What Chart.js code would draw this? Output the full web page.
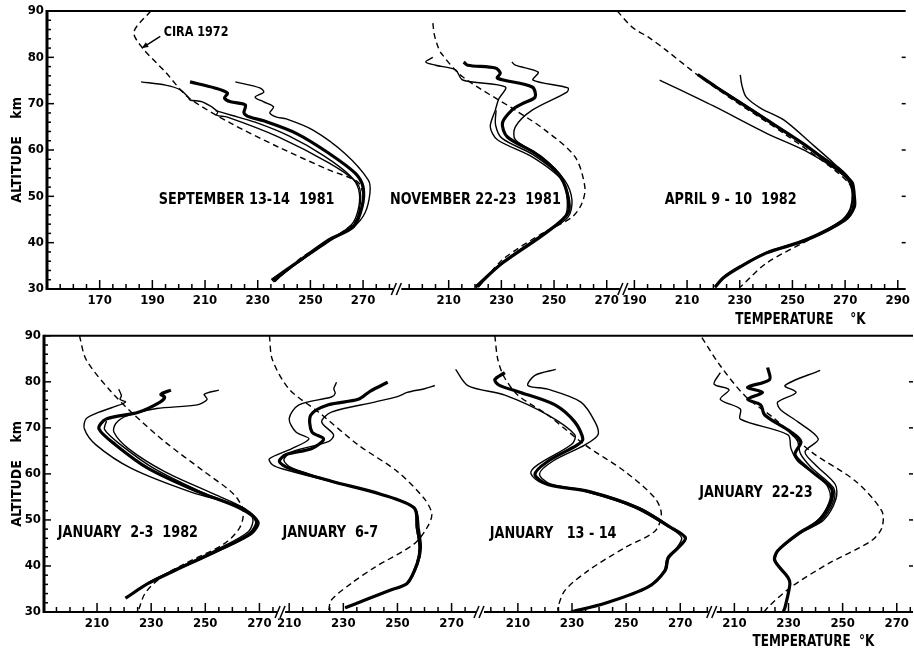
<!DOCTYPE html>
<html>
<head>
<meta charset="utf-8">
<script src="https://cdn.jsdelivr.net/npm/chart.js@4.4.0/dist/chart.umd.min.js"></script>
<style>
  body { margin: 0; background: #fff; }
  #wrap { position: relative; width: 914px; height: 650px; }
  .row { position: absolute; left: 0; width: 914px; height: 325px; }
</style>
</head>
<body>
<div id="wrap">
  <div class="row" style="top:0"><canvas id="topChart"></canvas></div>
  <div class="row" style="top:325px"><canvas id="bottomChart"></canvas></div>
</div>
<script>
// profiles are [temperature K, altitude km]
// --- September 13-14 1981
var sepCira  = [[189.4,90],[183,85.5],[186,82.2],[195,76.8],[203.6,71.4],[219.7,65.8],[238,60.6],[257,55.7],[268,53.1],[270,50],[268.5,46],[266,44],[258,40.8],[246,36.5],[236,31.3]];
var sepThick = [[204.3,74.7],[213.7,73.4],[218.5,72.3],[217.4,71.2],[219.7,70.4],[225.3,69.7],[224.8,68],[227,67.1],[232.3,66.3],[244.6,63.6],[257,59.3],[267,55],[270,52],[269.6,47.7],[266.3,43.4],[257,40.6],[244.6,35.6],[235.3,31.9]];
var sepThinA = [[185.7,74.7],[195,74],[200.6,73],[203.6,71.4],[204.3,70.8],[209,70.4],[214.8,68.3],[214.4,67.5],[218.5,67.1],[238,62.8],[257,57.2],[267.8,52.8],[269,48.8],[266.5,44],[257,40.2],[244.6,35.4],[236,31.5]];
var sepThinB = [[214,68.5],[220,67.5],[229,66],[242,63],[255,58.8],[265,54.5],[268.3,51.5],[268.3,47.5],[265.5,43.8],[257,40.4],[245,35.6],[236,31.6]];
var sepThinC = [[221.5,74.7],[230.8,73.4],[232.3,72.5],[229,71.4],[232.3,70.4],[236,69.3],[234.6,68],[237.2,67.1],[240.9,66.7],[251,64.3],[263,59.3],[272,53.5],[272.6,50.7],[270.7,46.4],[266.5,43.5],[257,40.6],[244.6,35.6],[236,31.6]];
// --- November 22-23 1981
var novCira  = [[204,87.4],[204.5,85],[205.5,83],[207,81],[215.3,75.8],[235.3,68.6],[246.6,64.3],[258,58.5],[261.7,52],[260.6,48.5],[256.8,45.5],[245.5,42],[230.4,36.3],[221.3,30.4]];
var novThick = [[215.7,79],[217.2,78.3],[227.7,77.7],[229.6,76.6],[228.5,75.5],[241.7,73.6],[242.8,71.4],[238,70],[234,68.6],[230.4,65.8],[232.3,62.8],[242.8,59.3],[251.5,55],[255,50.7],[255.3,46.4],[246.6,42],[230.4,35.6],[220.2,30.4]];
var novThinL = [[204,80],[201.3,79],[205,78.3],[212.6,77.3],[215.3,75.1],[231.5,73.6],[229,71],[227.7,68.6],[225.8,65],[228.5,62.2],[241.7,58.5],[253,53.5],[255,49.2],[254,45.5],[246,42],[230,35.6],[220.5,30.5]];
var novThinM = [[228,68.6],[227.8,65.4],[230.3,62.5],[242,59],[252,54.4],[255.5,50],[255,46],[246.3,42],[230.2,35.6],[220.3,30.4]];
var novThinR = [[234,79],[235.3,78.3],[244,76.8],[242,75.1],[255.3,73.4],[254.9,72.5],[241.7,68.6],[235.3,65],[235.3,62.2],[245.5,58.5],[254,53.5],[256.8,49.2],[255.3,45.5],[246.6,42],[230.4,35.6],[221,30.4]];
// --- April 9-10 1982
var aprCira  = [[183.5,90],[189.2,86.5],[195.7,84.2],[201.9,81.6],[214.9,75.8],[227.5,70.8],[246.7,63.6],[265.9,55.7],[272.4,52],[272.5,48.5],[269.7,44.9],[258.2,41.2],[240.2,35.6],[230.2,30.4]];
var aprThick = [[214,76.3],[221,73.6],[240.2,66.5],[255,61],[265.9,56.3],[271,54],[272.8,52.8],[273.5,50],[273.5,47.7],[270,44.9],[255.5,40.6],[240.2,37.8],[230.2,34.8],[223.7,32.4],[220.6,30.4]];
var aprThin1 = [[199.6,75.1],[220,69.5],[240.2,63.6],[255,59.8],[266,56],[271,53.5],[273,50],[272.5,47],[269.5,45],[255,40.8],[240,37.9],[230,34.9],[223.5,32.4],[220.8,30.5]];
var aprThin2 = [[230.2,76.2],[230.8,74],[232.5,71.4],[238,69],[246.7,66.5],[258,61],[266,57],[271.5,54],[273,51],[272,47],[268.5,44.6],[255,40.6],[240,37.7],[230,34.7],[223.8,32.3],[220.8,30.4]];
var aprThin3 = [[216,75.5],[240,66.8],[256,60.5],[266.5,56.5],[272,53],[272.3,48],[269,45],[255.3,40.7],[240.2,37.8],[230.2,34.8],[223.7,32.4],[220.7,30.4]];
// --- January 2-3 1982
var jan2Cira  = [[203.5,90],[206,84.8],[214.4,78.4],[222.7,73.4],[235,67],[249.6,60.5],[260.5,55.6],[264,52],[262.7,48.3],[256.9,44.8],[242.4,40.5],[233.6,37.5],[227.8,34.1],[225.3,30.4]];
var jan2Thick = [[237.3,78.2],[233.6,77.3],[235,76.7],[233.3,75.6],[225.3,73.4],[213.3,71.9],[210.7,69.8],[216.9,66.3],[228.9,61.2],[247,56.2],[262.7,52.6],[268.9,49.8],[266.4,47],[254.4,43.3],[238.7,39],[228.9,36.2],[220.5,33]];
var jan2ThinL = [[218,78.4],[219,77],[218.5,76.2],[220.5,75.6],[216,74.5],[210.7,73.4],[206,72],[205.3,69.8],[209.6,66.3],[222.7,61.2],[245,56],[262.7,53],[267.5,50.5],[266,47.5],[254,43.5],[238.5,39.2],[229,36.4],[221,33.2]];
var jan2ThinM = [[213.5,71.5],[212.8,69.6],[219,66.2],[231,61.2],[248.5,56.1],[263.5,52.5],[269.8,49.6],[267.2,46.9],[254.6,43.2],[238.8,39],[229,36.2],[220.6,33]];
var jan2ThinR = [[255,78.2],[249.6,77.3],[250.7,76.2],[247,75],[232,74.2],[221,72.6],[217,71],[216.2,69.1],[221.6,65.5],[235,60.5],[253.3,55.6],[264.5,52.5],[269.5,49.5],[267,47],[254.5,43.3],[238.8,39],[229,36.3],[221,33.1]];
// --- January 6-7
var jan6Cira  = [[202.7,90],[203.8,84.8],[210,78.4],[220.9,73.4],[235.5,66.3],[250,60.5],[259.8,54.7],[262.7,51.3],[260.9,48.3],[256.2,44.8],[241.6,39.7],[232.9,36.2],[225.6,32.6],[224.5,30]];
var jan6Thick = [[246.4,79.9],[240,78],[235.5,76.2],[224.5,75],[218,72.8],[218.4,69.1],[222.7,67.6],[218.4,65.5],[208.9,64.2],[206.4,62.7],[210,61.2],[225.6,58.4],[243.8,55.6],[256.2,52.6],[257.3,48.3],[258.4,44],[257.3,40.5],[253.6,36.2],[247.5,34.8],[238,32.6],[230.7,30.9]];
var jan6ThinL = [[227.5,79.9],[226.5,78.5],[227,77.5],[225.6,76.7],[213.6,75],[210,72],[212.5,69.1],[217.3,67.6],[211,65.5],[202.7,63.3],[203.8,62],[208,61],[225,58.4],[243.5,55.6],[256,52.6],[257,48.3],[258,44],[257,40.5],[253.3,36.2],[247.3,34.8],[238,32.6],[230.6,30.9]];
var jan6ThinR = [[263.8,79.2],[260,78.5],[253.6,77.7],[250,76.8],[241.6,75.6],[225.6,73.4],[222,71.3],[226.4,68.5],[224.5,67],[211,64.8],[208,63],[211,61.3],[226,58.4],[244,55.6],[256.5,52.6],[258,48.3],[258.8,44],[257.6,40.5],[253.8,36.2],[247.7,34.8],[238.2,32.6],[230.8,30.9]];
// --- January 13-14
var jan13Cira  = [[201.5,90],[202.6,84.8],[205,81],[210,77.1],[221,72.8],[234.8,66.3],[249.6,60.5],[260.7,54.7],[263,51.3],[260.7,47.6],[249.6,44],[236,39],[227.4,34.7],[224.8,31],[225,30]];
var jan13Thick = [[205.2,82],[201.5,80.5],[203,79.3],[211,77.7],[223.7,75],[231,71.3],[234,67.6],[232,66.3],[221,62.7],[216.3,59.9],[221,57.7],[236,56.2],[254.4,52.6],[266.7,48.3],[271.9,46.1],[269.3,44],[265.6,41.8],[264.4,39],[258,35.4],[242.2,31.9],[229.6,30]];
var jan13ThinL = [[187,82.7],[191.5,79.2],[205.2,77.1],[221,72.8],[231,68.5],[230,66.5],[217.4,62],[214.8,60.1],[219,58],[234,56.3],[253,52.7],[265.5,48.5],[270.5,46.2],[268.8,44],[265.2,41.8],[264,39],[257.7,35.4],[242,31.9],[229.5,30]];
var jan13ThinR = [[224,82.7],[216.3,81.4],[213.7,79.2],[221,78.4],[233.3,75.6],[238.5,71.3],[239.6,68.5],[234.8,66.3],[223,62.8],[218,60],[222,57.8],[237,56.2],[255,52.6],[267,48.3],[272,46],[269.5,44],[265.8,41.8],[264.6,39],[258.2,35.4],[242.3,31.9],[229.7,30]];
// --- January 22-23
var jan22Cira  = [[198,89.6],[204.8,83.5],[213.7,77.1],[225,71.9],[238.4,64.8],[254.8,58.4],[264.5,51.9],[264.5,48.3],[260.7,45.5],[244.7,40.5],[230.9,35.4],[222.3,31],[221,30]];
var jan22Thick = [[222.3,83.1],[223,80.5],[214.9,78.8],[220.4,77.7],[214.9,76.2],[219.7,75],[221.2,72.8],[230.9,69.1],[234.6,67],[232.4,64.2],[237.2,61.2],[245.8,56.9],[245.8,54.1],[241,49.8],[233.5,47],[226,43.3],[224.9,41.2],[229.8,37.5],[230.5,36],[228.7,31],[228,30]];
var jan22ThinL = [[204.8,82],[202.5,79.5],[208,78.3],[204.8,76.2],[212.2,74.1],[212.2,71.9],[229.8,68.5],[230.9,65.5],[233.5,62.7],[243,58.5],[245.5,55],[241.5,50.3],[233.8,47.1],[226.2,43.3],[225,41.2],[229.9,37.5]];
var jan22ThinM = [[228,70.4],[233.2,67.3],[234.4,64.4],[238.4,61.4],[246.6,57],[246.8,54.2],[242,49.8],[234,47.1]];
var jan22ThinR = [[241.7,82.5],[228.7,79.2],[232.8,77.7],[226,75.6],[227,74],[233.5,71.3],[241,67.6],[236.1,64.8],[239.9,62],[247.3,57.7],[247.5,54.5],[243,50],[235,47.3],[226.5,43.4],[225.2,41.2],[230,37.5]];

// x tick labels per panel
var topTicks1 = [170, 190, 210, 230, 250, 270];
var topTicks2 = [210, 230, 250, 270];
var topTicks3 = [190, 210, 230, 250, 270, 290];
var botTicks1 = [210, 230, 250, 270];
var botTicks2 = [210, 230, 250, 270];
var botTicks3 = [210, 230, 250, 270];
var botTicks4 = [210, 230, 250, 270];

var topPanels = [
  { min: 150, max: 283, ticks: topTicks1, curves: [[sepCira, 'cira'], [sepThinA, 'thin'], [sepThinB, 'thin'], [sepThinC, 'thin'], [sepThick, 'thick']] },
  { min: 190.5, max: 276.5, ticks: topTicks2, curves: [[novCira, 'cira'], [novThinL, 'thin'], [novThinM, 'thin'], [novThinR, 'thin'], [novThick, 'thick']] },
  { min: 186, max: 293, ticks: topTicks3, curves: [[aprCira, 'cira'], [aprThin1, 'thin'], [aprThin2, 'thin'], [aprThin3, 'thin'], [aprThick, 'thick']] }
];
var bottomPanels = [
  { min: 190.4, max: 278, ticks: botTicks1, curves: [[jan2Cira, 'cira'], [jan2ThinL, 'thin'], [jan2ThinM, 'thin'], [jan2ThinR, 'thin'], [jan2Thick, 'thick']] },
  { min: 207, max: 280.5, ticks: botTicks2, curves: [[jan6Cira, 'cira'], [jan6ThinL, 'thin'], [jan6ThinR, 'thin'], [jan6Thick, 'thick']] },
  { min: 196, max: 282, ticks: botTicks3, curves: [[jan13Cira, 'cira'], [jan13ThinL, 'thin'], [jan13ThinR, 'thin'], [jan13Thick, 'thick']] },
  { min: 202, max: 276, ticks: botTicks4, curves: [[jan22Cira, 'cira'], [jan22ThinL, 'thin'], [jan22ThinM, 'thin'], [jan22ThinR, 'thin'], [jan22Thick, 'thick']] }
];

var topNotes = [
  { panel: 0, t: 194.3, alt: 85.3, text: 'CIRA 1972', size: 14, arrow: [193, 84.5, 186, 82] },
  { panel: 0, t: 192.4, alt: 49.2, text: 'SEPTEMBER 13-14  1981', size: 16 },
  { panel: 1, t: 187.7, alt: 49.2, text: 'NOVEMBER 22-23  1981', size: 16 },
  { panel: 2, t: 201.5, alt: 49.2, text: 'APRIL 9 - 10  1982', size: 16 },
  { panel: 2, t: 228.3, alt: 23.3, text: 'TEMPERATURE    \u00b0K', size: 15 }
];
var bottomNotes = [
  { panel: 0, t: 195.5, alt: 47.2, text: 'JANUARY  2-3  1982', size: 16 },
  { panel: 1, t: 207.5, alt: 47.2, text: 'JANUARY  6-7', size: 16 },
  { panel: 2, t: 199.6, alt: 47, text: 'JANUARY   13 - 14', size: 16 },
  { panel: 3, t: 197, alt: 55.8, text: 'JANUARY  22-23', size: 16 },
  { panel: 3, t: 216.7, alt: 23.5, text: 'TEMPERATURE  \u00b0K', size: 15 }
];

var FONT = "'DejaVu Sans', sans-serif";

// use the condensed face when the canvas accepts it, otherwise squeeze by hand
var probe = document.createElement('canvas').getContext('2d');
probe.font = "bold 20px 'DejaVu Sans'";
var wideW = probe.measureText('SEPTEMBER 1981').width;
probe.font = "bold condensed 20px 'DejaVu Sans'";
var narrowW = probe.measureText('SEPTEMBER 1981').width;
var condensed = narrowW < wideW * 0.95;
var WEIGHT = condensed ? 'bold condensed' : 'bold';
var squeeze = condensed ? 0.8 * wideW / narrowW : 0.8;
var tickSize = condensed ? 13 : 12;

Chart.defaults.font.family = FONT;
Chart.defaults.font.weight = WEIGHT;
Chart.defaults.color = '#000';

var widths = { cira: 1.4, thin: 1.4, thick: 3.2 };

// lay the panels of one row side by side on a single linear axis
function buildRow(panels) {
  var start = 0, datasets = [], labels = [], marks = [], breaks = [];
  panels.forEach(function (p, i) {
    p.shift = start - p.min;
    p.curves.forEach(function (c) {
      datasets.push({
        data: c[0].map(function (d) { return { x: d[0] + p.shift, y: d[1] }; }),
        showLine: true,
        borderColor: '#000',
        borderWidth: widths[c[1]],
        borderDash: c[1] === 'cira' ? [6, 4] : [],
        pointRadius: 0,
        tension: 0.3
      });
    });
    p.ticks.forEach(function (t) { labels.push({ v: t + p.shift, t: String(t) }); });
    for (var t = Math.ceil(p.min / 5) * 5; t <= p.max; t += 5) {
      marks.push({ v: t + p.shift, major: p.ticks.indexOf(t) >= 0 });
    }
    start += p.max - p.min;
    if (i < panels.length - 1) breaks.push(start);
  });
  return { panels: panels, datasets: datasets, labels: labels, marks: marks, breaks: breaks, span: start };
}

var frame = {
  id: 'frame',
  afterDraw: function (chart, args, opts) {
    var ctx = chart.ctx, a = chart.chartArea, xs = chart.scales.x, ys = chart.scales.y, row = opts.row;
    function seg(x1, y1, x2, y2, w) {
      ctx.lineWidth = w; ctx.beginPath(); ctx.moveTo(x1, y1); ctx.lineTo(x2, y2); ctx.stroke();
    }
    ctx.save();
    ctx.strokeStyle = '#000';
    ctx.fillStyle = '#000';
    seg(a.left, a.top, a.right, a.top, 2);
    seg(a.left, a.top - 1, a.left, a.bottom + 1, 3);
    var last = a.left, bp = row.breaks.map(function (b) { return xs.getPixelForValue(b); });
    bp.forEach(function (p) { seg(last, a.bottom, p - 4, a.bottom, 2); last = p + 4; });
    seg(last, a.bottom, a.right, a.bottom, 2);
    bp.forEach(function (p) {
      seg(p - 6, a.bottom + 6, p - 1, a.bottom - 6, 1.5);
      seg(p - 1, a.bottom + 6, p + 4, a.bottom - 6, 1.5);
    });
    row.marks.forEach(function (m) {
      var p = xs.getPixelForValue(m.v);
      if (bp.some(function (b) { return Math.abs(b - p) < 5; })) return;
      seg(p, a.bottom, p, a.bottom - (m.major ? 9 : 5), 1.5);
    });
    for (var h = 30; h <= 90; h += 2) {
      var y = ys.getPixelForValue(h);
      seg(a.left, y, a.left + (h % 10 ? 4 : 7), y, 1.5);
    }
    for (h = 40; h <= 80; h += 10) {
      y = ys.getPixelForValue(h);
      seg(a.right - 4, y, a.right, y, 1.5);
    }
    ctx.textBaseline = 'middle';
    ctx.textAlign = 'left';
    opts.notes.forEach(function (n) {
      var sh = row.panels[n.panel].shift;
      var tx = xs.getPixelForValue(n.t + sh), ty = ys.getPixelForValue(n.alt);
      ctx.font = WEIGHT + ' ' + n.size + 'px ' + FONT;
      ctx.save();
      ctx.translate(tx, ty);
      ctx.scale(squeeze, 1);
      ctx.fillText(n.text, 0, 0);
      ctx.restore();
      if (n.arrow) {
        var x1 = xs.getPixelForValue(n.arrow[0] + sh), y1 = ys.getPixelForValue(n.arrow[1]);
        var x2 = xs.getPixelForValue(n.arrow[2] + sh), y2 = ys.getPixelForValue(n.arrow[3]);
        seg(x1, y1, x2, y2, 1.5);
        var ang = Math.atan2(y2 - y1, x2 - x1);
        ctx.beginPath();
        ctx.moveTo(x2, y2);
        ctx.lineTo(x2 - 7 * Math.cos(ang - 0.4), y2 - 7 * Math.sin(ang - 0.4));
        ctx.lineTo(x2 - 7 * Math.cos(ang + 0.4), y2 - 7 * Math.sin(ang + 0.4));
        ctx.closePath();
        ctx.fill();
      }
    });
    ctx.restore();
  }
};

function makeChart(id, row, notes, pad, axisW, axisH) {
  return new Chart(document.getElementById(id), {
    type: 'scatter',
    data: { datasets: row.datasets },
    options: {
      responsive: true,
      maintainAspectRatio: false,
      animation: false,
      layout: { autoPadding: false, padding: pad },
      plugins: { legend: { display: false }, tooltip: { enabled: false }, frame: { row: row, notes: notes } },
      scales: {
        x: {
          type: 'linear', min: 0, max: row.span,
          grid: { display: false, drawTicks: false },
          border: { display: false },
          afterBuildTicks: function (s) { s.ticks = row.labels.map(function (l) { return { value: l.v }; }); },
          afterFit: function (s) { s.height = axisH; },
          ticks: {
            autoSkip: false, maxRotation: 0, padding: 4,
            font: { size: tickSize, weight: WEIGHT },
            callback: function (v, i) { return row.labels[i].t; }
          }
        },
        y: {
          min: 30, max: 90,
          grid: { display: false, drawTicks: false },
          border: { display: false },
          afterFit: function (s) { s.width = axisW; },
          ticks: { stepSize: 10, padding: 3, font: { size: tickSize, weight: WEIGHT } },
          title: { display: true, text: 'ALTITUDE    km', font: { size: 14, weight: WEIGHT }, padding: { top: 9 } }
        }
      }
    },
    plugins: [frame]
  });
}

makeChart('topChart', buildRow(topPanels), topNotes, { top: 11, right: 1, left: 0, bottom: 0 }, 47, 36);
makeChart('bottomChart', buildRow(bottomPanels), bottomNotes, { top: 8, right: 1, left: 0, bottom: 0 }, 44, 38);
</script>
</body>
</html>
